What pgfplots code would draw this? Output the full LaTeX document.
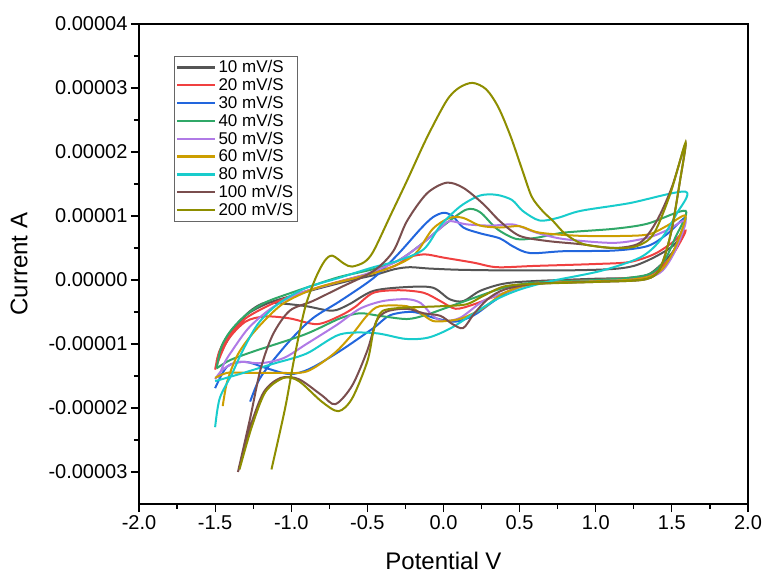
\documentclass[border=0pt]{standalone}
\usepackage{pgfplots}
\pgfplotsset{compat=1.18}
\usepackage{fontspec}
\setmainfont{Liberation Sans}
\definecolor{cA}{HTML}{555555}
\definecolor{cB}{HTML}{F04040}
\definecolor{cC}{HTML}{2266DD}
\definecolor{cD}{HTML}{30A868}
\definecolor{cE}{HTML}{B07AE6}
\definecolor{cF}{HTML}{CC9E00}
\definecolor{cG}{HTML}{18CCCC}
\definecolor{cH}{HTML}{7A4E4E}
\definecolor{cI}{HTML}{8E8E00}
\begin{document}
\begin{tikzpicture}
\begin{axis}[
  scale only axis, width=609pt, height=480pt,
  xmin=-2, xmax=2, ymin=-3.5, ymax=4,
  axis line style={line width=1.2pt},
  xtick={-2,-1.5,...,2},
  xticklabels={-2.0,-1.5,-1.0,-0.5,0.0,0.5,1.0,1.5,2.0},
  ytick={-3,-2,...,4},
  yticklabels={-0.00003,-0.00002,-0.00001,0.00000,0.00001,0.00002,0.00003,0.00004},
  minor x tick num=1, minor y tick num=1,
  tick align=outside, xtick pos=lower, ytick pos=left,
  major tick length=8pt, minor tick length=5pt,
  every tick/.style={black, line width=1.2pt},
  tick label style={font=\fontsize{20}{23}\selectfont},
  label style={font=\fontsize{24}{28}\selectfont},
  xlabel={Potential V}, ylabel={Current A},
  xlabel style={yshift=-16pt},
  ylabel style={yshift=14pt},
  legend style={at={(0.057,0.933)}, anchor=north west, draw=black!60, line width=0.8pt,
    font=\fontsize{17}{20.8}\selectfont, inner xsep=2pt, inner ysep=2pt, row sep=0pt},
  legend cell align=left,
  legend image code/.code={\draw[#1, line width=2.4pt] (0pt,0pt) -- (38pt,0pt);},
  every axis plot/.append style={line width=2pt, smooth, tension=0.5},
]
\addplot[cA] coordinates {(-1.49,-1.27) (-1.45,-1.0) (-1.38,-0.75) (-1.28,-0.52) (-1.15,-0.36) (-1.0,-0.25) (-0.8,-0.12) (-0.6,0.0) (-0.45,0.08) (-0.32,0.17) (-0.22,0.2) (-0.1,0.18) (0.1,0.16) (0.4,0.15) (0.8,0.15) (1.1,0.17) (1.25,0.22) (1.38,0.35) (1.5,0.52) (1.58,0.72)
 (1.5,0.42) (1.42,0.22) (1.34,0.08) (1.22,0.03) (1.0,0.02) (0.57,-0.02) (0.39,-0.06) (0.24,-0.17) (0.13,-0.33) (0.04,-0.3) (-0.07,-0.12) (-0.24,-0.11) (-0.46,-0.17) (-0.62,-0.38) (-0.73,-0.48) (-0.9,-0.41) (-1.05,-0.37) (-1.18,-0.36) (-1.3,-0.55) (-1.42,-0.95) (-1.49,-1.27)};
\addlegendentry{10 mV/S}
\addplot[cB] coordinates {(-1.5,-1.4) (-1.47,-1.1) (-1.4,-0.85) (-1.3,-0.6) (-1.15,-0.4) (-1.0,-0.25) (-0.8,-0.1) (-0.6,0.03) (-0.45,0.12) (-0.32,0.22) (-0.22,0.36) (-0.12,0.4) (0.0,0.35) (0.2,0.27) (0.35,0.2) (0.6,0.22) (1.0,0.25) (1.22,0.28) (1.38,0.4) (1.5,0.58) (1.59,0.77)
 (1.52,0.45) (1.44,0.22) (1.35,0.08) (1.2,0.03) (1.0,0.0) (0.6,-0.04) (0.44,-0.17) (0.31,-0.28) (0.2,-0.38) (0.08,-0.45) (-0.02,-0.33) (-0.13,-0.2) (-0.29,-0.16) (-0.46,-0.2) (-0.58,-0.42) (-0.68,-0.56) (-0.83,-0.69) (-1.01,-0.6) (-1.17,-0.57) (-1.3,-0.65) (-1.42,-0.95) (-1.5,-1.4)};
\addlegendentry{20 mV/S}
\addplot[cC] coordinates {(-1.27,-1.9) (-1.22,-1.6) (-1.16,-1.38) (-1.01,-0.95) (-0.86,-0.6) (-0.68,-0.33) (-0.46,0.03) (-0.3,0.4) (-0.15,0.8) (-0.07,0.98) (0.0,1.05) (0.06,1.0) (0.13,0.82) (0.24,0.73) (0.37,0.65) (0.46,0.52) (0.57,0.42) (0.79,0.45) (1.12,0.46) (1.34,0.53) (1.47,0.72) (1.59,0.97)
 (1.52,0.5) (1.45,0.2) (1.36,0.05) (1.2,0.0) (1.0,-0.02) (0.6,-0.06) (0.45,-0.15) (0.33,-0.33) (0.2,-0.55) (0.08,-0.65) (-0.05,-0.6) (-0.2,-0.5) (-0.35,-0.55) (-0.46,-0.75) (-0.68,-1.11) (-0.88,-1.39) (-1.01,-1.47) (-1.16,-1.38) (-1.3,-1.28) (-1.42,-1.35) (-1.5,-1.69)};
\addlegendentry{30 mV/S}
\addplot[cD] coordinates {(-1.49,-1.38) (-1.46,-1.05) (-1.4,-0.8) (-1.3,-0.55) (-1.17,-0.35) (-1.0,-0.2) (-0.85,-0.08) (-0.68,0.05) (-0.46,0.17) (-0.3,0.3) (-0.15,0.55) (0.0,0.85) (0.15,1.1) (0.24,1.06) (0.35,0.8) (0.48,0.64) (0.61,0.66) (0.79,0.74) (1.12,0.8) (1.34,0.88) (1.59,1.08)
 (1.52,0.65) (1.45,0.3) (1.36,0.1) (1.2,0.03) (1.0,0.0) (0.6,-0.04) (0.4,-0.12) (0.2,-0.28) (0.0,-0.45) (-0.12,-0.55) (-0.24,-0.61) (-0.42,-0.56) (-0.55,-0.52) (-0.68,-0.6) (-0.91,-0.85) (-1.24,-1.11) (-1.4,-1.25) (-1.49,-1.38)};
\addlegendentry{40 mV/S}
\addplot[cE] coordinates {(-1.48,-1.53) (-1.44,-1.3) (-1.39,-1.11) (-1.28,-0.75) (-1.13,-0.44) (-0.96,-0.22) (-0.73,-0.06) (-0.5,0.1) (-0.3,0.3) (-0.15,0.55) (-0.02,0.81) (0.04,0.92) (0.15,0.87) (0.31,0.85) (0.44,0.87) (0.5,0.84) (0.61,0.74) (0.79,0.64) (1.12,0.58) (1.34,0.66) (1.47,0.78) (1.59,0.92)
 (1.52,0.45) (1.44,0.15) (1.35,0.04) (1.2,0.0) (1.0,-0.02) (0.6,-0.06) (0.4,-0.2) (0.26,-0.33) (0.11,-0.59) (0.0,-0.64) (-0.07,-0.56) (-0.15,-0.36) (-0.24,-0.3) (-0.4,-0.33) (-0.55,-0.45) (-0.7,-0.7) (-0.9,-1.0) (-1.05,-1.22) (-1.2,-1.3) (-1.35,-1.28) (-1.45,-1.4) (-1.5,-1.55)};
\addlegendentry{50 mV/S}
\addplot[cF] coordinates {(-1.45,-1.97) (-1.42,-1.58) (-1.35,-1.16) (-1.24,-0.8) (-1.06,-0.38) (-0.84,-0.13) (-0.58,0.03) (-0.4,0.15) (-0.25,0.3) (-0.17,0.45) (-0.07,0.8) (0.04,0.97) (0.13,0.97) (0.24,0.85) (0.37,0.82) (0.5,0.84) (0.63,0.74) (0.9,0.69) (1.22,0.69) (1.36,0.72) (1.47,0.85) (1.59,1.0)
 (1.52,0.5) (1.44,0.18) (1.35,0.05) (1.2,0.0) (1.0,-0.02) (0.6,-0.06) (0.4,-0.2) (0.26,-0.44) (0.12,-0.6) (0.02,-0.64) (-0.07,-0.64) (-0.15,-0.52) (-0.24,-0.41) (-0.42,-0.41) (-0.5,-0.55) (-0.6,-0.85) (-0.72,-1.15) (-0.9,-1.43) (-1.1,-1.45) (-1.3,-1.45) (-1.42,-1.45) (-1.5,-1.53)};
\addlegendentry{60 mV/S}
\addplot[cG] coordinates {(-1.5,-2.3) (-1.47,-1.85) (-1.39,-1.47) (-1.32,-1.11) (-1.22,-0.69) (-1.09,-0.38) (-0.91,-0.13) (-0.69,0.03) (-0.46,0.2) (-0.3,0.3) (-0.13,0.48) (-0.02,0.85) (0.11,1.15) (0.24,1.32) (0.35,1.33) (0.45,1.25) (0.52,1.08) (0.63,0.93) (0.75,0.97) (0.9,1.08) (1.22,1.2) (1.59,1.38)
 (1.53,1.03) (1.42,0.61) (1.29,0.35) (1.03,0.14) (0.7,-0.02) (0.5,-0.15) (0.35,-0.3) (0.2,-0.52) (0.05,-0.75) (-0.1,-0.9) (-0.25,-0.92) (-0.45,-0.83) (-0.68,-0.85) (-0.9,-1.15) (-1.12,-1.31) (-1.34,-1.47) (-1.5,-1.58)};
\addlegendentry{80 mV/S}
\addplot[cH] coordinates {(-1.35,-3.0) (-1.27,-2.16) (-1.2,-1.38) (-1.12,-0.85) (-1.01,-0.48) (-0.86,-0.33) (-0.68,-0.12) (-0.46,0.14) (-0.33,0.45) (-0.24,0.92) (-0.11,1.35) (0.02,1.52) (0.13,1.44) (0.26,1.19) (0.37,0.92) (0.5,0.69) (0.68,0.61) (0.9,0.56) (1.12,0.5) (1.29,0.58) (1.4,0.92) (1.5,1.45) (1.59,2.13)
 (1.55,1.5) (1.5,0.8) (1.45,0.35) (1.4,0.1) (1.3,0.0) (1.0,-0.03) (0.6,-0.06) (0.4,-0.15) (0.29,-0.3) (0.2,-0.53) (0.13,-0.75) (0.06,-0.69) (-0.02,-0.56) (-0.13,-0.52) (-0.24,-0.45) (-0.37,-0.49) (-0.44,-0.64) (-0.5,-1.1) (-0.6,-1.65) (-0.71,-1.94) (-0.8,-1.8) (-0.95,-1.55) (-1.07,-1.53) (-1.18,-1.75) (-1.27,-2.3) (-1.35,-3.0)};
\addlegendentry{100 mV/S}
\addplot[cI] coordinates {(-1.13,-2.96) (-1.04,-2.0) (-0.98,-1.22) (-0.91,-0.44) (-0.84,0.03) (-0.78,0.3) (-0.73,0.38) (-0.65,0.25) (-0.6,0.21) (-0.52,0.28) (-0.46,0.45) (-0.35,1.0) (-0.24,1.55) (-0.11,2.22) (0.02,2.8) (0.1,3.0) (0.19,3.08) (0.28,2.98) (0.36,2.7) (0.44,2.25) (0.52,1.7) (0.58,1.3) (0.65,1.08) (0.72,0.92) (0.8,0.72) (0.92,0.56) (1.12,0.5) (1.27,0.53) (1.38,0.72) (1.49,1.35) (1.59,2.15)
 (1.55,1.5) (1.5,0.8) (1.45,0.35) (1.4,0.1) (1.3,0.0) (1.0,-0.03) (0.6,-0.06) (0.4,-0.1) (0.26,-0.25) (0.15,-0.38) (-0.02,-0.41) (-0.24,-0.43) (-0.37,-0.46) (-0.42,-0.53) (-0.46,-0.8) (-0.5,-1.27) (-0.6,-1.85) (-0.69,-2.05) (-0.8,-1.9) (-0.95,-1.58) (-1.05,-1.53) (-1.17,-1.75) (-1.26,-2.3) (-1.34,-2.96)};
\addlegendentry{200 mV/S}
\end{axis}
\pgfresetboundingbox
\path (current axis.south west) ++(-139pt,-74pt) rectangle ++(763pt,578pt);
\end{tikzpicture}
\end{document}
